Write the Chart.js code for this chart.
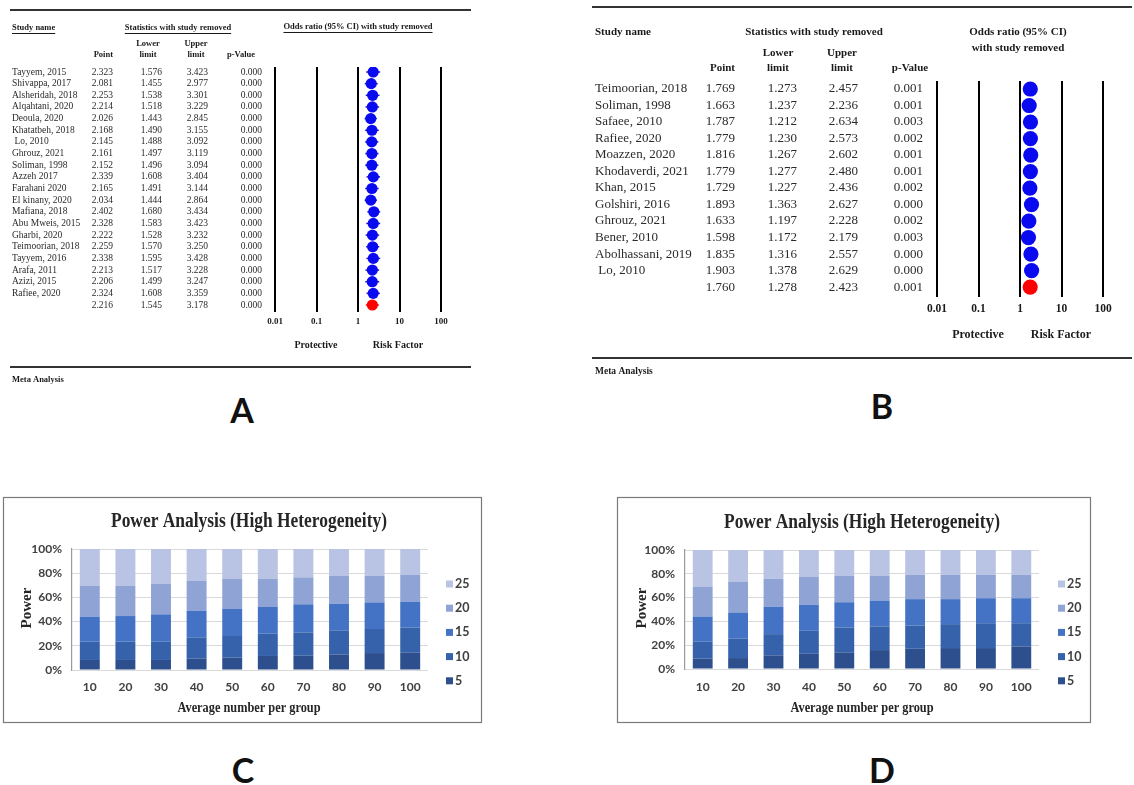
<!DOCTYPE html>
<html>
<head>
<meta charset="utf-8">
<script src="https://cdn.jsdelivr.net/npm/chart.js@4.4.1/dist/chart.umd.min.js"></script>
<style>
  body { margin: 0; background: #fff; }
  #page { position: relative; width: 1134px; height: 785px; overflow: hidden; background: #fff; }
  #page canvas { position: absolute; left: 0; top: 0; }
  .tag { position: absolute; font: bold 34px Lato, sans-serif; color: #111; transform: translate(-50%, -50%); line-height: 1; }
</style>
</head>
<body>
<div id="page">
  <div class="tag" style="left:242px;top:410px">A</div>
  <div class="tag" style="left:882px;top:406px">B</div>
  <div class="tag" style="left:243px;top:770px">C</div>
  <div class="tag" style="left:882px;top:770px">D</div>
</div>
<script>
// ---- panel A: leave-one-out, 20 studies + pooled row ----
const namesA = ['Tayyem, 2015', 'Shivappa, 2017', 'Alsheridah, 2018', 'Alqahtani, 2020', 'Deoula, 2020',
  'Khatatbeh, 2018', ' Lo, 2010', 'Ghrouz, 2021', 'Soliman, 1998', 'Azzeh 2017', 'Farahani 2020',
  'El kinany, 2020', 'Mafiana, 2018', 'Abu Mweis, 2015', 'Gharbi, 2020', 'Teimoorian, 2018',
  'Tayyem, 2016', 'Arafa, 2011', 'Azizi, 2015', 'Rafiee, 2020', ''];
const pointA = [2.323, 2.081, 2.253, 2.214, 2.026, 2.168, 2.145, 2.161, 2.152, 2.339, 2.165,
  2.034, 2.402, 2.328, 2.222, 2.259, 2.338, 2.213, 2.206, 2.324, 2.216];
const lowerA = [1.576, 1.455, 1.538, 1.518, 1.443, 1.490, 1.488, 1.497, 1.496, 1.608, 1.491,
  1.444, 1.680, 1.583, 1.528, 1.570, 1.595, 1.517, 1.499, 1.608, 1.545];
const upperA = [3.423, 2.977, 3.301, 3.229, 2.845, 3.155, 3.092, 3.119, 3.094, 3.404, 3.144,
  2.864, 3.434, 3.423, 3.232, 3.250, 3.428, 3.228, 3.247, 3.359, 3.178];
const pValA = [0, 0, 0, 0, 0, 0, 0, 0, 0, 0, 0, 0, 0, 0, 0, 0, 0, 0, 0, 0, 0];

// ---- panel B: leave-one-out, 12 studies + pooled row ----
const namesB = ['Teimoorian, 2018', 'Soliman, 1998', 'Safaee, 2010', 'Rafiee, 2020', 'Moazzen, 2020',
  'Khodaverdi, 2021', 'Khan, 2015', 'Golshiri, 2016', 'Ghrouz, 2021', 'Bener, 2010',
  'Abolhassani, 2019', ' Lo, 2010', ''];
const pointB = [1.769, 1.663, 1.787, 1.779, 1.816, 1.779, 1.729, 1.893, 1.633, 1.598, 1.835, 1.903, 1.760];
const lowerB = [1.273, 1.237, 1.212, 1.230, 1.267, 1.277, 1.227, 1.363, 1.197, 1.172, 1.316, 1.378, 1.278];
const upperB = [2.457, 2.236, 2.634, 2.573, 2.602, 2.480, 2.436, 2.627, 2.228, 2.179, 2.557, 2.629, 2.423];
const pValB = [0.001, 0.001, 0.003, 0.002, 0.001, 0.001, 0.002, 0.000, 0.002, 0.003, 0.000, 0.000, 0.001];

const orTicks = [0.01, 0.1, 1, 10, 100];

// ---- panels C and D: power by group size, stacked to 100% ----
const groupSizes = ['10', '20', '30', '40', '50', '60', '70', '80', '90', '100'];
const effectLabels = ['5', '10', '15', '20', '25'];
const c5  = [8.3, 8.3, 8.3, 9.6, 10.2, 11.6, 11.8, 12.9, 14.0, 14.6];
const c10 = [15.1, 15.1, 15.4, 17.4, 17.9, 18.4, 19.3, 19.9, 19.9, 20.4];
const c15 = [20.7, 21.2, 22.3, 21.8, 22.3, 22.1, 23.2, 22.0, 22.0, 21.5];
const c20 = [25.3, 24.8, 25.1, 24.8, 24.8, 23.4, 22.3, 22.9, 21.8, 22.0];
const c25 = [30.6, 30.6, 28.9, 26.4, 24.8, 24.5, 23.4, 22.3, 22.3, 21.5];
const d5  = [8.7, 9.2, 11.5, 12.8, 14.0, 15.9, 17.0, 17.6, 17.6, 19.0];
const d10 = [14.5, 16.5, 17.8, 19.3, 20.9, 19.9, 19.6, 20.1, 20.9, 19.5];
const d15 = [20.9, 21.8, 22.9, 21.8, 21.2, 21.7, 22.1, 21.0, 21.0, 21.0];
const d20 = [25.2, 26.0, 23.5, 23.8, 22.4, 21.0, 20.4, 20.4, 19.6, 19.6];
const d25 = [30.7, 26.5, 24.3, 22.3, 21.5, 21.5, 20.9, 20.9, 20.9, 20.9];

const shades = ['#2d4f8e', '#3562aa', '#4473c5', '#8fa3d5', '#b9c3e3'];
const SERIF = '"Liberation Serif", "Times New Roman", serif';

function txt(ctx, s, x, y, font, align, color, under, maxW) {
  ctx.font = font;
  ctx.textAlign = align || 'left';
  ctx.textBaseline = 'middle';
  ctx.fillStyle = color || '#222';
  if (maxW) ctx.fillText(s, x, y, maxW); else ctx.fillText(s, x, y);
  if (under) {
    let w = ctx.measureText(s).width;
    if (maxW) w = Math.min(w, maxW);
    const x0 = align === 'center' ? x - w / 2 : align === 'right' ? x - w : x;
    ctx.fillRect(x0, y + under, w, 1);
  }
}

function newCanvas() {
  const c = document.createElement('canvas');
  c.width = 1134; c.height = 785;
  document.getElementById('page').appendChild(c);
  return c;
}

function forestPlot(L, names, point, lower, upper, pval) {
  const n = point.length;
  const tablePlugin = {
    id: 'table',
    beforeDatasetsDraw(chart) {
      const ctx = chart.ctx, x = chart.scales.x, y = chart.scales.y;
      ctx.save();
      ctx.strokeStyle = '#1515d0';
      ctx.lineWidth = 1.5;
      for (let i = 0; i < n; i++) {
        ctx.strokeStyle = i === n - 1 ? '#ff0000' : '#1515d0';
        ctx.beginPath();
        ctx.moveTo(x.getPixelForValue(lower[i]), y.getPixelForValue(i));
        ctx.lineTo(x.getPixelForValue(upper[i]), y.getPixelForValue(i));
        ctx.stroke();
      }
      ctx.restore();
    },
    afterDraw(chart) {
      const ctx = chart.ctx, x = chart.scales.x, y = chart.scales.y;
      ctx.save();
      ctx.fillStyle = '#333';
      L.rules.forEach(r => ctx.fillRect(r[0], r[1], r[2] - r[0], 2));
      L.heads.forEach(h => txt(ctx, h[0], h[1], h[2], L.headFont, h[3], '#1a1a1a', h[4] ? L.ul : 0));
      for (let i = 0; i < n; i++) {
        const py = y.getPixelForValue(i);
        const c = L.cols;
        txt(ctx, names[i], c[0], py, L.rowFont, 'left', '#2a2a2a');
        txt(ctx, point[i].toFixed(3), c[1], py, L.rowFont, 'right', '#2a2a2a');
        txt(ctx, lower[i].toFixed(3), c[2], py, L.rowFont, 'right', '#2a2a2a');
        txt(ctx, upper[i].toFixed(3), c[3], py, L.rowFont, 'right', '#2a2a2a');
        txt(ctx, pval[i].toFixed(3), c[4], py, L.rowFont, 'right', '#2a2a2a');
      }
      x.ticks.forEach(t => txt(ctx, String(t.value), x.getPixelForValue(t.value), L.tickY, L.tickFont, 'center', '#1a1a1a'));
      L.notes.forEach(h => txt(ctx, h[0], h[1], h[2], h[3], h[4], '#1a1a1a'));
      ctx.restore();
    }
  };

  return new Chart(newCanvas(), {
    type: 'scatter',
    data: {
      datasets: [{
        data: point.map((v, i) => ({ x: v, y: i })),
        pointBackgroundColor: point.map((v, i) => i === n - 1 ? '#ff0000' : '#0a0af0'),
        pointBorderWidth: 0,
        pointRadius: L.r,
        pointHoverRadius: L.r
      }]
    },
    options: {
      responsive: false,
      animation: false,
      events: [],
      layout: { padding: L.pad },
      plugins: { legend: { display: false }, tooltip: { enabled: false } },
      scales: {
        x: {
          type: 'logarithmic', min: 0.01, max: 100,
          afterBuildTicks: s => { s.ticks = orTicks.map(v => ({ value: v })); },
          ticks: { display: false },
          grid: { color: '#000', lineWidth: L.gw, drawTicks: false },
          border: { display: false }
        },
        y: { type: 'linear', reverse: true, min: L.ymin, max: L.ymax, display: false }
      }
    },
    plugins: [tablePlugin]
  });
}

function powerChart(L, series) {
  const deco = {
    id: 'deco',
    afterDraw(chart) {
      const ctx = chart.ctx, x = chart.scales.x, y = chart.scales.y;
      ctx.save();
      ctx.strokeStyle = '#7a7a7a';
      ctx.lineWidth = 1.2;
      ctx.strokeRect(L.box[0], L.box[1], L.box[2] - L.box[0], L.box[3] - L.box[1]);
      txt(ctx, 'Power Analysis (High Heterogeneity)', L.cx, L.titleY, 'bold 20px ' + SERIF, 'center', '#262626', 0, 276);
      const tickFont = 'bold 12px Lato, sans-serif';
      y.ticks.forEach(t => txt(ctx, t.value + '%', L.yLabX, y.getPixelForValue(t.value), tickFont, 'right', '#404040'));
      chart.data.labels.forEach((lab, i) => txt(ctx, lab, x.getPixelForValue(i), L.xLabY, tickFont, 'center', '#404040'));
      txt(ctx, 'Average number per group', L.cx, L.xTitleY, 'bold 15px ' + SERIF, 'center', '#262626', 0, 143);
      ctx.translate(L.yTitle[0], L.yTitle[1]);
      ctx.rotate(-Math.PI / 2);
      txt(ctx, 'Power', 0, 0, 'bold 15px ' + SERIF, 'center', '#262626', 0, 41);
      ctx.setTransform(1, 0, 0, 1, 0, 0);
      const ds = chart.data.datasets;
      for (let k = ds.length - 1, row = 0; k >= 0; k--, row++) {
        const ly = L.legY + row * 24.2;
        ctx.fillStyle = ds[k].backgroundColor;
        ctx.fillRect(L.legX, ly - 3.5, 7, 7);
        txt(ctx, ds[k].label, L.legX + 9, ly, 'bold 12.5px Lato, sans-serif', 'left', '#404040');
      }
      ctx.restore();
    }
  };

  return new Chart(newCanvas(), {
    type: 'bar',
    data: {
      labels: groupSizes,
      datasets: effectLabels.map((lab, k) => ({
        label: lab,
        data: series[k],
        backgroundColor: shades[k],
        barPercentage: 0.56,
        categoryPercentage: 1
      }))
    },
    options: {
      responsive: false,
      animation: false,
      events: [],
      layout: { padding: L.pad },
      plugins: { legend: { display: false }, tooltip: { enabled: false } },
      scales: {
        x: {
          stacked: true,
          ticks: { display: false },
          grid: { display: false, drawTicks: false },
          border: { display: false }
        },
        y: {
          stacked: true, min: 0, max: 100,
          ticks: { display: false, stepSize: 20 },
          grid: { color: '#d9d9d9', lineWidth: 1, drawTicks: false },
          border: { display: true, color: '#9a9a9a', width: 1.2 }
        }
      }
    },
    plugins: [deco]
  });
}

forestPlot({
  pad: { left: 275, right: 693, top: 67, bottom: 473 },
  ymin: -0.43, ymax: 20.6, r: 5.6, gw: 2,
  rules: [[10, 9, 471], [10, 366, 471]],
  headFont: 'bold 8.5px ' + SERIF, ul: 5,
  heads: [
    ['Study name', 12, 28, 'left', true],
    ['Statistics with study removed', 178, 28, 'center', true],
    ['Odds ratio (95% CI) with study removed', 358, 27, 'center', true],
    ['Point', 113, 55, 'right'],
    ['Lower', 148, 44, 'center'], ['limit', 148, 55, 'center'],
    ['Upper', 196, 44, 'center'], ['limit', 196, 55, 'center'],
    ['p-Value', 241, 55, 'center']
  ],
  rowFont: '9.5px ' + SERIF,
  cols: [12, 113, 162, 208, 262],
  tickY: 322, tickFont: 'bold 9px ' + SERIF,
  notes: [
    ['Protective', 316, 345, 'bold 10px ' + SERIF, 'center'],
    ['Risk Factor', 398, 345, 'bold 10px ' + SERIF, 'center'],
    ['Meta Analysis', 12, 380, 'bold 8.5px ' + SERIF, 'left']
  ]
}, namesA, pointA, lowerA, upperA, pValA);

forestPlot({
  pad: { left: 937, right: 31, top: 81, bottom: 488 },
  ymin: -0.485, ymax: 12.6, r: 7.6, gw: 2,
  rules: [[592, 6, 1132], [592, 357, 1132]],
  headFont: 'bold 11px ' + SERIF, ul: 7,
  heads: [
    ['Study name', 595, 32, 'left'],
    ['Statistics with study removed', 814, 32, 'center'],
    ['Odds ratio (95% CI)', 1018, 32, 'center'],
    ['with study removed', 1018, 48, 'center'],
    ['Point', 735, 68, 'right'],
    ['Lower', 778, 53, 'center'], ['limit', 778, 68, 'center'],
    ['Upper', 842, 53, 'center'], ['limit', 842, 68, 'center'],
    ['p-Value', 910, 68, 'center']
  ],
  rowFont: '13px ' + SERIF,
  cols: [595, 735, 797, 858, 923],
  tickY: 309, tickFont: 'bold 11.5px ' + SERIF,
  notes: [
    ['Protective', 978, 335, 'bold 12px ' + SERIF, 'center'],
    ['Risk Factor', 1061, 335, 'bold 12px ' + SERIF, 'center'],
    ['Meta Analysis', 595, 372, 'bold 9.5px ' + SERIF, 'left']
  ]
}, namesB, pointB, lowerB, upperB, pValB);

powerChart({
  pad: { left: 72, right: 706, top: 549, bottom: 115 },
  box: [3.5, 497.5, 481.5, 722.5],
  cx: 249, titleY: 522, yLabX: 62, xLabY: 687, xTitleY: 708,
  yTitle: [27, 608], legX: 446, legY: 584
}, [c5, c10, c15, c20, c25]);

powerChart({
  pad: { left: 685, right: 95, top: 550, bottom: 116 },
  box: [617.5, 497.5, 1090.5, 722.5],
  cx: 862, titleY: 523, yLabX: 675, xLabY: 687, xTitleY: 708,
  yTitle: [642, 608], legX: 1058, legY: 584
}, [d5, d10, d15, d20, d25]);
</script>
</body>
</html>
